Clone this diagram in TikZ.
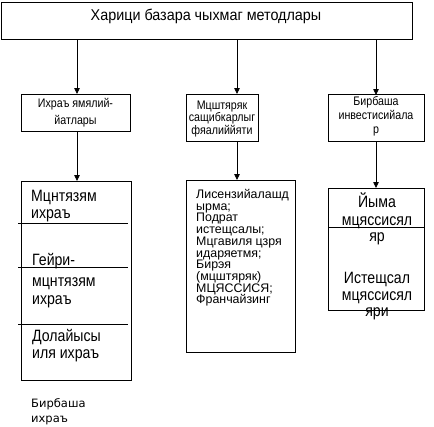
\documentclass[tikz,border=0pt]{standalone}
\usepackage{fontspec}
\setmainfont{Liberation Sans}
\newfontfamily\condfont{Liberation Sans}[FakeStretch=0.86]
\newfontfamily\topfont{Liberation Sans}[FakeStretch=0.92]
\newfontfamily\dejafont{DejaVu Sans}
\usetikzlibrary{arrows.meta}
\begin{document}
\begin{tikzpicture}[x=1pt,y=-1pt,
  box/.style={draw, line width=0.8pt, inner sep=0pt, outer sep=0pt, anchor=north west},
  arr/.style={line width=0.8pt, -{Triangle[width=5.5pt,length=6pt]}},
  sep/.style={line width=0.8pt},
  txt/.style={inner sep=0pt, anchor=base},
  ltxt/.style={inner sep=0pt, anchor=base west},
  ftop/.style={font=\topfont\fontsize{15.6}{17}\selectfont},
  fsmall/.style={font=\condfont\fontsize{12.4}{13}\selectfont},
  fbig/.style={font=\condfont\fontsize{16.4}{17}\selectfont},
  flist/.style={font=\fontsize{12.4}{12}\selectfont},
  fbot/.style={font=\dejafont\fontsize{11.5}{14}\selectfont},
]
\useasboundingbox (0,0) rectangle (434,426);
\fill[white] (0,0) rectangle (434,426);

% boxes
\node[box, minimum width=411pt, minimum height=37pt] (top) at (1,2) {};
\node[box, minimum width=109pt, minimum height=37pt] (boxA) at (21,94) {};
\node[box, minimum width=72pt, minimum height=47pt] (boxB) at (186,94) {};
\node[box, minimum width=96pt, minimum height=47pt] (boxC) at (328,94) {};
\node[box, minimum width=110pt, minimum height=199pt] (big) at (21,181) {};
\node[box, minimum width=109pt, minimum height=172pt] (list) at (186,180) {};
\node[box, minimum width=96pt, minimum height=122pt] (right) at (328,188) {};

% arrow columns
\coordinate (xa) at (77,0);
\coordinate (xb) at (237,0);
\coordinate (xc) at (376,0);

\draw[arr] (top.south -| xa) -- (boxA.north -| xa);
\draw[arr] (boxA.south -| xa) -- (big.north -| xa);
\draw[arr] (top.south -| xb) -- (boxB.north -| xb);
\draw[arr] (boxB.south -| xb) -- (list.north -| xb);
\draw[arr] (top.south -| xc) -- ([yshift=-1pt]boxC.north -| xc);
\draw[arr] (boxC.south -| xc) -- (right.north -| xc);

% separators
\draw[sep] (18,223) -- (128,223);
\draw[sep] (18,267) -- (128,267);
\draw[sep] (18,324) -- (128,324);
\draw[sep] (328,227) -- (424,227);

% texts
\node[txt, ftop] (t0) at (206,20) {Харици базара чыхмаг методлары};

\node[txt, fsmall] (a1) at (75.5,107.5) {Ихраъ ямялий-};
\node[txt, fsmall] (a2) at (75.5,124) {йатлары};

\node[txt, fsmall] (b1) at (222,109) {Мцштяряк};
\node[txt, fsmall] (b2) at (222,121.5) {сащибкарлыг};
\node[txt, fsmall] (b3) at (222,134) {фяалиййяти};

\node[txt, fsmall] (c1) at (376,105) {Бирбаша};
\node[txt, fsmall] (c2) at (376,119) {инвестисийала};
\node[txt, fsmall] (c3) at (376,133.5) {р};

\node[ltxt, fbig] (d1) at (31,201) {Мцнтязям};
\node[ltxt, fbig] (d2) at (31,218) {ихраъ};
\node[ltxt, fbig] (d3) at (32,265.5) {Гейри-};
\node[ltxt, fbig] (d4) at (32,286.5) {мцнтязям};
\node[ltxt, fbig] (d5) at (32,304.5) {ихраъ};
\node[ltxt, fbig] (d6) at (32,341) {Долайысы};
\node[ltxt, fbig] (d7) at (32,358.5) {иля ихраъ};

\node[ltxt, flist] (e1) at (196,198.5) {Лисензийалашд};
\node[ltxt, flist] (e2) at (196,210.2) {ырма;};
\node[ltxt, flist] (e3) at (196,221.9) {Подрат};
\node[ltxt, flist] (e4) at (196,233.6) {истещсалы;};
\node[ltxt, flist] (e5) at (196,245.3) {Мцгавиля цзря};
\node[ltxt, flist] (e6) at (196,257.0) {идаряетмя;};
\node[ltxt, flist] (e7) at (196,268.7) {Бирэя};
\node[ltxt, flist] (e8) at (196,280.4) {(мцштяряк)};
\node[ltxt, flist] (e9) at (196,292.1) {МЦЯССИСЯ;};
\node[ltxt, flist] (e10) at (196,303.8) {Франчайзинг};

\node[txt, fbig] (r1) at (377,207) {Йыма};
\node[txt, fbig] (r2) at (377,225.5) {мцяссисял};
\node[txt, fbig] (r3) at (377,241) {яр};
\node[txt, fbig] (r4) at (377,283) {Истещсал};
\node[txt, fbig] (r5) at (377,300) {мцяссисял};
\node[txt, fbig] (r6) at (377,316.5) {яри};

\node[ltxt, fbot] (g1) at (31,407) {Бирбаша};
\node[ltxt, fbot] (g2) at (31,422.5) {ихраъ};
\end{tikzpicture}
\end{document}
